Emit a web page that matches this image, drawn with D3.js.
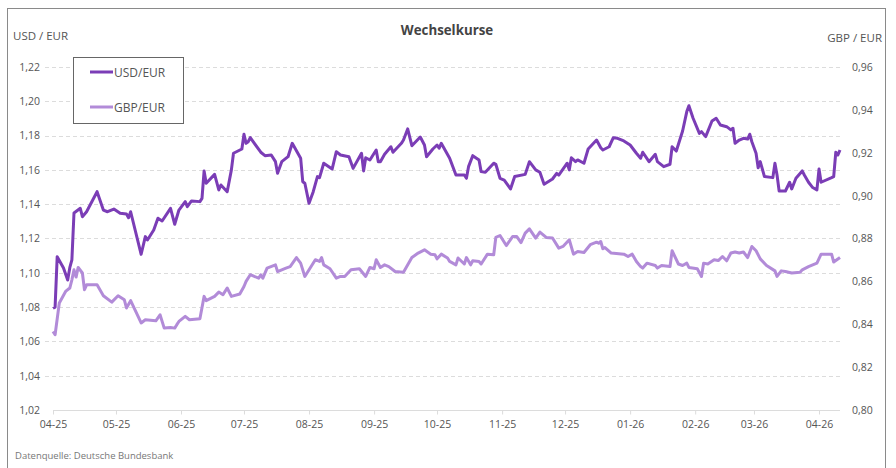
<!DOCTYPE html>
<html>
<head>
<meta charset="utf-8">
<script src="https://cdn.jsdelivr.net/npm/d3@7"></script>
<style>
  body { margin: 0; background: #fff; }
  svg { font-family: "Open Sans", sans-serif; }
</style>
</head>
<body>
<div id="chart"></div>
<script>
'use strict';

// series names
var seriesNames = ['USD/EUR', 'GBP/EUR'];

// USD/EUR, left axis
var usdDates = [
  '2025-04-01','2025-04-02','2025-04-03','2025-04-06','2025-04-08','2025-04-09','2025-04-10','2025-04-11',
  '2025-04-14','2025-04-15','2025-04-17','2025-04-22','2025-04-25','2025-04-27','2025-04-30','2025-05-03',
  '2025-05-06','2025-05-07','2025-05-08','2025-05-13','2025-05-15','2025-05-16','2025-05-19','2025-05-21',
  '2025-05-23','2025-05-27','2025-05-29','2025-05-31','2025-06-03','2025-06-04','2025-06-06','2025-06-10',
  '2025-06-11','2025-06-12','2025-06-13','2025-06-17','2025-06-19','2025-06-20','2025-06-23','2025-06-25',
  '2025-06-26','2025-06-30','2025-07-01','2025-07-02','2025-07-03','2025-07-04','2025-07-09','2025-07-11',
  '2025-07-14','2025-07-16','2025-07-17','2025-07-19','2025-07-22','2025-07-24','2025-07-28','2025-07-29',
  '2025-07-30','2025-08-01','2025-08-03','2025-08-05','2025-08-06','2025-08-08','2025-08-12','2025-08-14',
  '2025-08-16','2025-08-20','2025-08-22','2025-08-26','2025-08-27','2025-08-28','2025-08-30','2025-09-02',
  '2025-09-03','2025-09-04','2025-09-06','2025-09-09','2025-09-10','2025-09-14','2025-09-15','2025-09-17',
  '2025-09-19','2025-09-23','2025-09-25','2025-09-26','2025-09-29','2025-10-01','2025-10-02','2025-10-03',
  '2025-10-07','2025-10-10','2025-10-14','2025-10-15','2025-10-16','2025-10-18','2025-10-21','2025-10-22',
  '2025-10-24','2025-10-28','2025-10-29','2025-10-31','2025-11-02','2025-11-05','2025-11-07','2025-11-12',
  '2025-11-14','2025-11-17','2025-11-19','2025-11-21','2025-11-25','2025-11-27','2025-11-28','2025-12-02',
  '2025-12-03','2025-12-04','2025-12-06','2025-12-07','2025-12-10','2025-12-12','2025-12-16','2025-12-18',
  '2025-12-19','2025-12-22','2025-12-24','2025-12-26','2025-12-29','2026-01-01','2026-01-04','2026-01-06',
  '2026-01-07','2026-01-10','2026-01-13','2026-01-14','2026-01-17','2026-01-20','2026-01-21','2026-01-23',
  '2026-01-26','2026-01-28','2026-01-29','2026-01-31','2026-02-03','2026-02-04','2026-02-06','2026-02-09',
  '2026-02-11','2026-02-13','2026-02-16','2026-02-18','2026-02-19','2026-02-20','2026-02-22','2026-02-24',
  '2026-02-26','2026-02-27','2026-02-28','2026-03-02','2026-03-03','2026-03-04','2026-03-06','2026-03-10',
  '2026-03-11','2026-03-12','2026-03-13','2026-03-16','2026-03-18','2026-03-19','2026-03-21','2026-03-24',
  '2026-03-25','2026-03-27','2026-03-29','2026-03-31','2026-04-01','2026-04-02','2026-04-07','2026-04-08',
  '2026-04-09','2026-04-10','2026-04-11'
];
var usdValues = [
  1.0793,1.0800,1.1094,1.1028,1.0958,1.1030,1.1075,1.1349,
  1.1376,1.1327,1.1356,1.1473,1.1366,1.1356,1.1372,1.1347,
  1.1343,1.1321,1.1356,1.1108,1.1211,1.1191,1.1250,1.1318,
  1.1302,1.1376,1.1283,1.1366,1.1415,1.1386,1.1419,1.1415,
  1.1434,1.1594,1.1522,1.1574,1.1483,1.1512,1.1473,1.1600,
  1.1697,1.1722,1.1808,1.1755,1.1764,1.1788,1.1703,1.1683,
  1.1687,1.1648,1.1580,1.1648,1.1677,1.1755,1.1668,1.1531,
  1.1522,1.1405,1.1473,1.1561,1.1555,1.1639,1.1605,1.1706,
  1.1687,1.1677,1.1609,1.1697,1.1594,1.1671,1.1658,1.1716,
  1.1648,1.1648,1.1691,1.1735,1.1703,1.1755,1.1774,1.1839,
  1.1741,1.1792,1.1745,1.1677,1.1722,1.1745,1.1726,1.1755,
  1.1668,1.1570,1.1570,1.1551,1.1619,1.1683,1.1658,1.1590,
  1.1586,1.1639,1.1633,1.1551,1.1541,1.1489,1.1561,1.1574,
  1.1648,1.1600,1.1586,1.1516,1.1547,1.1580,1.1570,1.1639,
  1.1600,1.1671,1.1648,1.1658,1.1639,1.1722,1.1774,1.1729,
  1.1716,1.1735,1.1788,1.1784,1.1769,1.1745,1.1697,1.1668,
  1.1703,1.1648,1.1691,1.1648,1.1619,1.1633,1.1735,1.1710,
  1.1827,1.1940,1.1974,1.1901,1.1813,1.1823,1.1794,1.1885,
  1.1901,1.1862,1.1852,1.1833,1.1843,1.1755,1.1774,1.1784,
  1.1780,1.1808,1.1764,1.1697,1.1613,1.1648,1.1561,1.1555,
  1.1639,1.1570,1.1477,1.1477,1.1528,1.1489,1.1551,1.1594,
  1.1570,1.1528,1.1497,1.1483,1.1605,1.1528,1.1555,1.1561,
  1.1703,1.1687,1.1716
];

// GBP/EUR, right axis
var gbpDates = [
  '2025-04-01','2025-04-02','2025-04-04','2025-04-07','2025-04-09','2025-04-10','2025-04-11','2025-04-12',
  '2025-04-13','2025-04-15','2025-04-16','2025-04-17','2025-04-22','2025-04-25','2025-04-29','2025-05-02',
  '2025-05-05','2025-05-06','2025-05-08','2025-05-13','2025-05-15','2025-05-20','2025-05-22','2025-05-24',
  '2025-05-27','2025-05-29','2025-05-30','2025-05-31','2025-06-03','2025-06-05','2025-06-10','2025-06-12',
  '2025-06-13','2025-06-17','2025-06-19','2025-06-21','2025-06-23','2025-06-25','2025-06-29','2025-07-01',
  '2025-07-02','2025-07-04','2025-07-08','2025-07-09','2025-07-10','2025-07-12','2025-07-16','2025-07-17',
  '2025-07-21','2025-07-23','2025-07-26','2025-07-28','2025-07-30','2025-08-04','2025-08-06','2025-08-07',
  '2025-08-08','2025-08-11','2025-08-14','2025-08-16','2025-08-18','2025-08-21','2025-08-25','2025-08-28',
  '2025-08-30','2025-09-01','2025-09-02','2025-09-04','2025-09-06','2025-09-08','2025-09-11','2025-09-15',
  '2025-09-19','2025-09-22','2025-09-25','2025-09-28','2025-09-30','2025-10-01','2025-10-03','2025-10-06',
  '2025-10-07','2025-10-10','2025-10-11','2025-10-14','2025-10-15','2025-10-17','2025-10-18','2025-10-21',
  '2025-10-22','2025-10-25','2025-10-28','2025-10-29','2025-10-31','2025-11-03','2025-11-06','2025-11-08',
  '2025-11-10','2025-11-12','2025-11-14','2025-11-17','2025-11-19','2025-11-22','2025-11-25','2025-11-28',
  '2025-11-30','2025-12-03','2025-12-05','2025-12-07','2025-12-10','2025-12-13','2025-12-16','2025-12-17',
  '2025-12-18','2025-12-19','2025-12-20','2025-12-23','2025-12-29','2025-12-31','2026-01-02','2026-01-04',
  '2026-01-06','2026-01-07','2026-01-09','2026-01-13','2026-01-14','2026-01-16','2026-01-20','2026-01-21',
  '2026-01-24','2026-01-26','2026-01-28','2026-01-29','2026-02-02','2026-02-04','2026-02-05','2026-02-07',
  '2026-02-10','2026-02-12','2026-02-14','2026-02-16','2026-02-18','2026-02-20','2026-02-22','2026-02-24',
  '2026-02-26','2026-02-28','2026-03-02','2026-03-04','2026-03-07','2026-03-11','2026-03-12','2026-03-14',
  '2026-03-16','2026-03-19','2026-03-23','2026-03-24','2026-03-27','2026-03-31','2026-04-02','2026-04-07',
  '2026-04-08','2026-04-11'
];
var gbpValues = [
  0.8366,0.8351,0.8499,0.8553,0.8569,0.8607,0.8654,0.8620,
  0.8665,0.8639,0.8561,0.8584,0.8584,0.8533,0.8503,0.8533,
  0.8514,0.8476,0.8510,0.8406,0.8421,0.8416,0.8444,0.8382,
  0.8385,0.8382,0.8398,0.8413,0.8437,0.8421,0.8426,0.8530,
  0.8510,0.8530,0.8550,0.8538,0.8569,0.8530,0.8541,0.8576,
  0.8600,0.8631,0.8615,0.8631,0.8615,0.8662,0.8677,0.8646,
  0.8662,0.8669,0.8711,0.8685,0.8623,0.8701,0.8693,0.8711,
  0.8677,0.8659,0.8615,0.8623,0.8623,0.8654,0.8659,0.8623,
  0.8665,0.8659,0.8701,0.8665,0.8677,0.8669,0.8646,0.8643,
  0.8711,0.8732,0.8747,0.8727,0.8724,0.8705,0.8727,0.8709,
  0.8693,0.8677,0.8709,0.8681,0.8711,0.8677,0.8696,0.8693,
  0.8681,0.8727,0.8724,0.8805,0.8814,0.8767,0.8809,0.8809,
  0.8781,0.8825,0.8845,0.8802,0.8830,0.8805,0.8802,0.8755,
  0.8763,0.8794,0.8727,0.8739,0.8735,0.8771,0.8783,0.8778,
  0.8786,0.8752,0.8758,0.8732,0.8727,0.8716,0.8727,0.8693,
  0.8669,0.8662,0.8685,0.8674,0.8662,0.8674,0.8669,0.8743,
  0.8681,0.8674,0.8685,0.8665,0.8659,0.8623,0.8685,0.8681,
  0.8701,0.8697,0.8716,0.8696,0.8732,0.8737,0.8732,0.8737,
  0.8711,0.8763,0.8743,0.8705,0.8674,0.8649,0.8623,0.8649,
  0.8646,0.8639,0.8643,0.8654,0.8669,0.8685,0.8727,0.8727,
  0.8690,0.8711
];

// axis ticks
var usdTicks = [1.02, 1.04, 1.06, 1.08, 1.10, 1.12, 1.14, 1.16, 1.18, 1.20, 1.22];
var gbpTicks = [0.80, 0.82, 0.84, 0.86, 0.88, 0.90, 0.92, 0.94, 0.96];
var monthTicks = ['2025-04-01','2025-05-01','2025-06-01','2025-07-01','2025-08-01','2025-09-01',
  '2025-10-01','2025-11-01','2025-12-01','2026-01-01','2026-02-01','2026-03-01','2026-04-01'];

var colors = { usd: '#7b3db6', gbp: '#b28bd8', text: '#555', grid: '#dcdcdc' };

var W = 896, H = 468;
var plot = { left: 53, right: 840, top: 67, bottom: 410 };

var parse = d3.timeParse('%Y-%m-%d');
var de = d3.formatLocale({ decimal: ',', thousands: '.', grouping: [3], currency: ['', ' €'] });
var fmt = de.format('.2f');

var usd = usdDates.map(function(d, i) { return { date: parse(d), value: usdValues[i] }; });
var gbp = gbpDates.map(function(d, i) { return { date: parse(d), value: gbpValues[i] }; });

var x = d3.scaleTime()
  .domain([parse(usdDates[0]), parse(usdDates[usdDates.length - 1])])
  .range([plot.left, plot.right]);
var yLeft = d3.scaleLinear().domain([1.02, 1.22]).range([plot.bottom, plot.top]);
var yRight = d3.scaleLinear().domain([0.80, 0.96]).range([plot.bottom, plot.top]);

var svg = d3.select('#chart').append('svg')
  .attr('width', W)
  .attr('height', H);

// frame round the chart (open at the bottom edge)
svg.append('rect')
  .attr('x', 7.5).attr('y', 8.5)
  .attr('width', 878).attr('height', 500)
  .attr('fill', 'none')
  .attr('stroke', '#8a8a8a');

// title
svg.append('text')
  .attr('x', 447).attr('y', 35)
  .attr('text-anchor', 'middle')
  .attr('font-size', 13.3).attr('font-weight', 'bold')
  .attr('fill', '#444')
  .text('Wechselkurse');

svg.append('text')
  .attr('x', 13).attr('y', 40)
  .attr('font-size', 11.5).attr('fill', colors.text)
  .text('USD / EUR');
svg.append('text')
  .attr('x', 882).attr('y', 42)
  .attr('text-anchor', 'end')
  .attr('font-size', 11.5).attr('fill', colors.text)
  .text('GBP / EUR');

// gridlines
svg.append('g')
  .selectAll('line')
  .data(usdTicks.slice(1))
  .join('line')
  .attr('x1', 45).attr('x2', plot.right)
  .attr('y1', function(d) { return Math.round(yLeft(d)) + 0.5; })
  .attr('y2', function(d) { return Math.round(yLeft(d)) + 0.5; })
  .attr('stroke', colors.grid)
  .attr('stroke-dasharray', '4,3');

// left axis
var gLeft = svg.append('g')
  .attr('transform', 'translate(' + plot.left + ',0)')
  .call(d3.axisLeft(yLeft).tickValues(usdTicks).tickSize(0).tickPadding(13).tickFormat(fmt));
gLeft.select('.domain').remove();

// right axis
var gRight = svg.append('g')
  .attr('transform', 'translate(' + plot.right + ',0)')
  .call(d3.axisRight(yRight).tickValues(gbpTicks).tickSize(0).tickPadding(12).tickFormat(fmt));
gRight.select('.domain').remove();

// bottom axis
var gBottom = svg.append('g')
  .attr('transform', 'translate(0,' + (plot.bottom + 0.5) + ')')
  .call(d3.axisBottom(x).tickValues(monthTicks.map(parse)).tickSize(4).tickPadding(6)
    .tickFormat(d3.timeFormat('%m-%y')));
gBottom.select('.domain').attr('stroke', colors.grid).attr('d', 'M' + plot.left + ',0H' + plot.right);
gBottom.selectAll('.tick line').attr('stroke', colors.grid);

svg.selectAll('.tick text')
  .attr('fill', colors.text)
  .attr('font-family', '"Open Sans", sans-serif')
  .attr('font-size', 10.5);

// lines
var line = function(y) {
  return d3.line()
    .x(function(d) { return x(d.date); })
    .y(function(d) { return y(d.value); });
};

svg.append('path')
  .datum(gbp)
  .attr('fill', 'none')
  .attr('stroke', colors.gbp)
  .attr('stroke-width', 3)
  .attr('stroke-linejoin', 'round')
  .attr('d', line(yRight));

svg.append('path')
  .datum(usd)
  .attr('fill', 'none')
  .attr('stroke', colors.usd)
  .attr('stroke-width', 3)
  .attr('stroke-linejoin', 'round')
  .attr('d', line(yLeft));

// legend
var legend = svg.append('g');
legend.append('rect')
  .attr('x', 73.5).attr('y', 57.5)
  .attr('width', 110).attr('height', 66)
  .attr('fill', '#fff')
  .attr('stroke', '#666');

var items = legend.selectAll('g.item')
  .data([{ name: seriesNames[0], color: colors.usd }, { name: seriesNames[1], color: colors.gbp }])
  .join('g')
  .attr('class', 'item')
  .attr('transform', function(d, i) { return 'translate(90,' + (72 + i * 35) + ')'; });
items.append('line')
  .attr('x1', 0).attr('x2', 23)
  .attr('stroke', function(d) { return d.color; })
  .attr('stroke-width', 3);
items.append('text')
  .attr('x', 24).attr('y', 4.5)
  .attr('font-size', 12).attr('fill', colors.text)
  .text(function(d) { return d.name; });

// footer
svg.append('text')
  .attr('x', 15).attr('y', 459)
  .attr('font-size', 9.5).attr('fill', '#777')
  .text('Datenquelle: Deutsche Bundesbank');
</script>
</body>
</html>
